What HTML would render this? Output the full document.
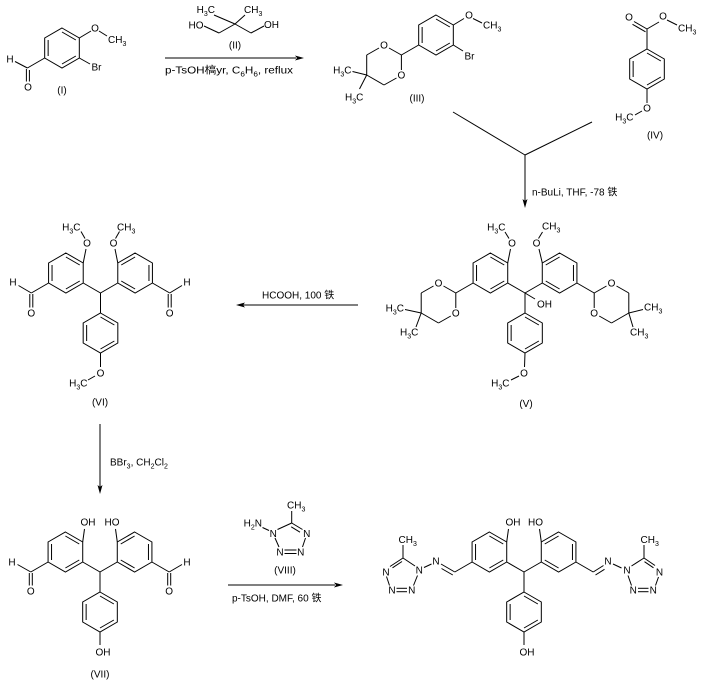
<!DOCTYPE html>
<html><head><meta charset="utf-8"><style>
html,body{margin:0;padding:0;background:#fff;}
svg{display:block;}
text{font-family:"Liberation Sans","Noto Sans CJK SC",sans-serif;font-size:10px;fill:#000;}
.m{text-anchor:middle;}
.e{text-anchor:end;}
</style></head><body>
<svg width="701" height="680" viewBox="0 0 701 680" xmlns="http://www.w3.org/2000/svg">
<defs>
<g id="rA" fill="none" stroke="#000" stroke-width="1">
<polygon points="0,-20 17.32,-10 17.32,10 0,20 -17.32,10 -17.32,-10"/>
<line x1="-13.86" y1="-8" x2="-13.86" y2="8"/>
<line x1="0" y1="-16" x2="13.86" y2="-8"/>
<line x1="13.86" y1="8" x2="0" y2="16"/>
</g>
<g id="rB" fill="none" stroke="#000" stroke-width="1">
<polygon points="0,-20 17.32,-10 17.32,10 0,20 -17.32,10 -17.32,-10"/>
<line x1="13.86" y1="-8" x2="13.86" y2="8"/>
<line x1="-13.86" y1="-8" x2="0" y2="-16"/>
<line x1="0" y1="16" x2="-13.86" y2="8"/>
</g>
</defs>
<rect width="701" height="680" fill="#fff"/>

<g stroke="#000" stroke-width="1" fill="none">
<!-- Compound I -->
<use href="#rA" x="62" y="48"/>
<line x1="79.3" y1="38" x2="91" y2="31"/>
<line x1="99" y1="31" x2="107" y2="36"/>
<line x1="79.3" y1="58" x2="90" y2="64"/>
<line x1="44.7" y1="58" x2="27.4" y2="68"/>
<line x1="27.4" y1="68" x2="15" y2="61.5"/>
<line x1="26.4" y1="69" x2="26.4" y2="81.5"/>
<line x1="29.4" y1="70" x2="29.4" y2="81.5"/>

<!-- Reagent II -->
<line x1="214" y1="15" x2="235" y2="24"/>
<line x1="235" y1="24" x2="245" y2="15"/>
<line x1="235" y1="24" x2="219" y2="33"/>
<line x1="219" y1="33" x2="204" y2="26"/>
<line x1="235" y1="24" x2="251" y2="33"/>
<line x1="251" y1="33" x2="264" y2="26"/>
<line x1="165" y1="58" x2="296" y2="58"/>

<!-- Compound III -->
<use href="#rA" x="436" y="35"/>
<line x1="453.3" y1="25" x2="464" y2="18.5"/>
<line x1="473" y1="18.5" x2="482" y2="23"/>
<line x1="453.3" y1="45" x2="463" y2="51"/>
<line x1="418.7" y1="45" x2="401.4" y2="55"/>
<line x1="401.4" y1="55" x2="389" y2="48"/>
<line x1="379" y1="48" x2="366.7" y2="55"/>
<line x1="366.7" y1="55" x2="366.7" y2="75"/>
<line x1="366.7" y1="75" x2="384" y2="85"/>
<line x1="384" y1="85" x2="396.5" y2="78"/>
<line x1="401.4" y1="70" x2="401.4" y2="55"/>
<line x1="366.7" y1="75" x2="352.5" y2="71.5"/>
<line x1="366.7" y1="75" x2="359.5" y2="89"/>

<!-- Compound IV -->
<use href="#rA" x="647" y="69"/>
<line x1="647" y1="49" x2="647" y2="29"/>
<line x1="647" y1="29" x2="634" y2="21.5"/>
<line x1="645.5" y1="31.8" x2="632.5" y2="24.3"/>
<line x1="647" y1="29" x2="659" y2="22"/>
<line x1="667" y1="20" x2="677" y2="25"/>
<line x1="647" y1="89" x2="647" y2="103"/>
<line x1="642" y1="111" x2="635" y2="115"/>

<!-- convergence arrow -->
<line x1="453" y1="112" x2="525" y2="155"/>
<line x1="592" y1="122" x2="525" y2="155"/>
<line x1="525" y1="155" x2="525" y2="201"/>

<!-- Compound V -->
<use href="#rA" x="490.4" y="273"/>
<use href="#rB" x="559.6" y="273"/>
<use href="#rA" x="525" y="333"/>
<line x1="507.7" y1="283" x2="525" y2="293"/>
<line x1="542.3" y1="283" x2="525" y2="293"/>
<line x1="525" y1="293" x2="525" y2="313"/>
<line x1="525" y1="293" x2="535" y2="299"/>
<line x1="507.7" y1="263" x2="510.5" y2="249"/>
<line x1="505" y1="232" x2="509" y2="238.5"/>
<line x1="542.3" y1="263" x2="539" y2="249"/>
<line x1="538.5" y1="238.5" x2="542.5" y2="232"/>
<line x1="525" y1="353" x2="524.5" y2="367"/>
<line x1="519" y1="376" x2="511" y2="380"/>
<line x1="473.1" y1="283" x2="455.8" y2="293"/>
<line x1="455.8" y1="293" x2="443.5" y2="286"/>
<line x1="433.5" y1="286" x2="421.2" y2="293"/>
<line x1="421.2" y1="293" x2="421.2" y2="313"/>
<line x1="421.2" y1="313" x2="438.5" y2="323"/>
<line x1="438.5" y1="323" x2="450.8" y2="316"/>
<line x1="455.8" y1="308" x2="455.8" y2="293"/>
<line x1="421.2" y1="313" x2="405" y2="309.5"/>
<line x1="421.2" y1="313" x2="416" y2="327"/>
<line x1="576.9" y1="283" x2="594.2" y2="293"/>
<line x1="594.2" y1="293" x2="606.5" y2="286"/>
<line x1="616.5" y1="286" x2="628.8" y2="293"/>
<line x1="628.8" y1="293" x2="628.8" y2="313"/>
<line x1="628.8" y1="313" x2="611.5" y2="323"/>
<line x1="611.5" y1="323" x2="599.2" y2="316"/>
<line x1="594.2" y1="308" x2="594.2" y2="293"/>
<line x1="628.8" y1="313" x2="643" y2="309.5"/>
<line x1="628.8" y1="313" x2="633" y2="327"/>

<!-- arrow V -> VI -->
<line x1="358" y1="305" x2="243" y2="305"/>

<!-- Compound VI -->
<use href="#rA" x="65.9" y="273"/>
<use href="#rB" x="135.1" y="273"/>
<use href="#rA" x="100.5" y="333"/>
<line x1="83.2" y1="283" x2="100.5" y2="293"/>
<line x1="117.8" y1="283" x2="100.5" y2="293"/>
<line x1="100.5" y1="293" x2="100.5" y2="313"/>
<line x1="83.2" y1="263" x2="86" y2="249"/>
<line x1="81" y1="231.5" x2="85" y2="238.5"/>
<line x1="117.8" y1="263" x2="115" y2="249"/>
<line x1="115.5" y1="238.5" x2="119.5" y2="231.5"/>
<line x1="100.5" y1="353" x2="100.5" y2="367"/>
<line x1="95" y1="376" x2="88" y2="380"/>
<line x1="48.6" y1="283" x2="31.3" y2="293"/>
<line x1="31.3" y1="293" x2="18.5" y2="285.5"/>
<line x1="29.8" y1="294" x2="29.8" y2="307.5"/>
<line x1="32.8" y1="294" x2="32.8" y2="307.5"/>
<line x1="152.4" y1="283" x2="169.7" y2="293"/>
<line x1="169.7" y1="293" x2="182" y2="285.5"/>
<line x1="168.2" y1="294" x2="168.2" y2="307.5"/>
<line x1="171.2" y1="294" x2="171.2" y2="307.5"/>

<!-- arrow VI -> VII -->
<line x1="100" y1="424" x2="100" y2="487"/>

<!-- Compound VII -->
<use href="#rA" x="65.4" y="552"/>
<use href="#rB" x="134.6" y="552"/>
<use href="#rA" x="100" y="612"/>
<line x1="82.7" y1="562" x2="100" y2="572"/>
<line x1="117.3" y1="562" x2="100" y2="572"/>
<line x1="100" y1="572" x2="100" y2="592"/>
<line x1="82.7" y1="542" x2="84.5" y2="529"/>
<line x1="117.3" y1="542" x2="115.5" y2="529"/>
<line x1="100" y1="632" x2="100" y2="645"/>
<line x1="48.1" y1="562" x2="30.8" y2="572"/>
<line x1="30.8" y1="572" x2="17.5" y2="564.5"/>
<line x1="29.3" y1="573" x2="29.3" y2="585.5"/>
<line x1="32.3" y1="573" x2="32.3" y2="585.5"/>
<line x1="151.9" y1="562" x2="169.2" y2="572"/>
<line x1="169.2" y1="572" x2="182" y2="564.5"/>
<line x1="167.7" y1="573" x2="167.7" y2="585.5"/>
<line x1="170.7" y1="573" x2="170.7" y2="585.5"/>

<!-- arrow VII -> final -->
<line x1="228" y1="585" x2="335" y2="585"/>

<!-- Compound VIII -->
<line x1="262.5" y1="527.5" x2="269" y2="530.5"/>
<line x1="277.5" y1="529.5" x2="291.7" y2="523"/>
<line x1="291.7" y1="523" x2="302.5" y2="529.5"/>
<line x1="291.2" y1="526.8" x2="300" y2="532.2"/>
<line x1="291.7" y1="523" x2="291.7" y2="511"/>
<line x1="305.5" y1="538" x2="302.5" y2="547"/>
<line x1="284.5" y1="550" x2="296.5" y2="550"/>
<line x1="284.5" y1="553.5" x2="296.5" y2="553.5"/>
<line x1="279" y1="547" x2="275" y2="538"/>

<!-- Final product -->
<use href="#rA" x="489.4" y="552"/>
<use href="#rB" x="558.6" y="552"/>
<use href="#rA" x="524" y="612"/>
<line x1="506.7" y1="562" x2="524" y2="572"/>
<line x1="541.3" y1="562" x2="524" y2="572"/>
<line x1="524" y1="572" x2="524" y2="592"/>
<line x1="506.7" y1="542" x2="508.5" y2="529"/>
<line x1="541.3" y1="542" x2="539.5" y2="529"/>
<line x1="524" y1="632" x2="524" y2="645"/>
<line x1="472.1" y1="562" x2="454.8" y2="572"/>
<line x1="454.8" y1="572" x2="441" y2="564"/>
<line x1="452.8" y1="575" x2="441.5" y2="568.5"/>
<line x1="431.5" y1="564" x2="424" y2="567.5"/>
<line x1="415" y1="566" x2="403" y2="558"/>
<line x1="403" y1="558" x2="390" y2="566.5"/>
<line x1="402" y1="561.5" x2="392.5" y2="567.8"/>
<line x1="403" y1="558" x2="403" y2="545"/>
<line x1="386.5" y1="576.5" x2="389.5" y2="585.5"/>
<line x1="396.5" y1="588.3" x2="407" y2="588.3"/>
<line x1="396.5" y1="591.7" x2="407" y2="591.7"/>
<line x1="413.5" y1="585.5" x2="417.5" y2="575.5"/>
<line x1="575.9" y1="562" x2="593.2" y2="572"/>
<line x1="593.2" y1="572" x2="603.5" y2="565.5"/>
<line x1="595.5" y1="575" x2="604.5" y2="569.3"/>
<line x1="613" y1="564" x2="621.5" y2="568"/>
<line x1="631.5" y1="566" x2="644" y2="558"/>
<line x1="644" y1="558" x2="655" y2="565.5"/>
<line x1="644.5" y1="561.7" x2="653.5" y2="567.8"/>
<line x1="644" y1="558" x2="644" y2="545"/>
<line x1="658.5" y1="577" x2="655.5" y2="585.5"/>
<line x1="638" y1="588.3" x2="648.5" y2="588.3"/>
<line x1="638" y1="591.7" x2="648.5" y2="591.7"/>
<line x1="631.5" y1="585.5" x2="628" y2="575.5"/>
</g>

<!-- arrowheads -->
<g fill="#000" stroke="none">
<polygon points="304,58 295,55.5 297,58 295,60.5"/>
<polygon points="525,208 522.5,199 525,201 527.5,199"/>
<polygon points="236,305 245,302.5 243,305 245,307.5"/>
<polygon points="100,494 97.5,485 100,487 102.5,485"/>
<polygon points="343,585 334,582.5 336,585 334,587.5"/>
</g>

<!-- TEXT -->
<!-- I -->
<text class="m" x="95" y="31.6">O</text>
<text x="108" y="43">CH<tspan dy="3" font-size="7">3</tspan></text>
<text x="91.5" y="70.5">Br</text>
<text class="m" x="10" y="62.5">H</text>
<text class="m" x="28" y="90.5">O</text>
<text class="m" x="62" y="93.5">(I)</text>

<!-- II -->
<text class="e" x="215" y="13">H<tspan dy="3" font-size="7">3</tspan><tspan dy="-3">C</tspan></text>
<text x="244" y="13">CH<tspan dy="3" font-size="7">3</tspan></text>
<text class="e" x="203.5" y="28.5">HO</text>
<text x="264" y="28">OH</text>
<text class="m" x="235" y="48.5">(II)</text>
<text x="165" y="73.5" textLength="128" lengthAdjust="spacingAndGlyphs">p-TsOH槁yr, C<tspan dy="3" font-size="7">6</tspan><tspan dy="-3">H</tspan><tspan dy="3" font-size="7">6</tspan><tspan dy="-3">, reflux</tspan></text>

<!-- III -->
<text class="m" x="469" y="18.6">O</text>
<text x="483" y="28.6">CH<tspan dy="3" font-size="7">3</tspan></text>
<text x="464.5" y="59.6">Br</text>
<text class="m" x="384" y="48.6">O</text>
<text class="m" x="401.4" y="78.6">O</text>
<text class="e" x="351.5" y="73.6">H<tspan dy="3" font-size="7">3</tspan><tspan dy="-3">C</tspan></text>
<text x="345" y="100.6">H<tspan dy="3" font-size="7">3</tspan><tspan dy="-3">C</tspan></text>
<text class="m" x="417" y="101.6">(III)</text>

<!-- IV -->
<text class="m" x="629" y="20.6">O</text>
<text class="m" x="663" y="19.6">O</text>
<text x="678" y="31.6">CH<tspan dy="3" font-size="7">3</tspan></text>
<text class="m" x="647" y="111.6">O</text>
<text class="e" x="633.5" y="120.6">H<tspan dy="3" font-size="7">3</tspan><tspan dy="-3">C</tspan></text>
<text class="m" x="655" y="138.6">(IV)</text>
<text x="532" y="195.6">n-BuLi, THF, -78 铁</text>

<!-- V -->
<text class="e" x="505.5" y="230.6">H<tspan dy="3" font-size="7">3</tspan><tspan dy="-3">C</tspan></text>
<text class="m" x="512" y="246.6">O</text>
<text class="m" x="536.5" y="246.6">O</text>
<text x="542" y="229.6">CH<tspan dy="3" font-size="7">3</tspan></text>
<text x="537" y="307.6">OH</text>
<text class="m" x="438.5" y="286.6">O</text>
<text class="m" x="455.8" y="316.6">O</text>
<text class="e" x="404" y="311.6">H<tspan dy="3" font-size="7">3</tspan><tspan dy="-3">C</tspan></text>
<text x="400" y="335.6">H<tspan dy="3" font-size="7">3</tspan><tspan dy="-3">C</tspan></text>
<text class="m" x="611.5" y="286.6">O</text>
<text class="m" x="594.2" y="316.6">O</text>
<text x="644" y="310.6">CH<tspan dy="3" font-size="7">3</tspan></text>
<text x="630" y="335.6">CH<tspan dy="3" font-size="7">3</tspan></text>
<text class="m" x="524" y="376.6">O</text>
<text class="e" x="509.5" y="386.6">H<tspan dy="3" font-size="7">3</tspan><tspan dy="-3">C</tspan></text>
<text class="m" x="526" y="407">(V)</text>

<text x="262" y="298.6">HCOOH, 100 铁</text>

<!-- VI -->
<text class="e" x="80.5" y="230.6">H<tspan dy="3" font-size="7">3</tspan><tspan dy="-3">C</tspan></text>
<text class="m" x="87" y="246.6">O</text>
<text class="m" x="113.5" y="246.6">O</text>
<text x="117" y="230.6">CH<tspan dy="3" font-size="7">3</tspan></text>
<text class="m" x="100.5" y="376.6">O</text>
<text class="e" x="87.5" y="386.6">H<tspan dy="3" font-size="7">3</tspan><tspan dy="-3">C</tspan></text>
<text class="m" x="100" y="405.6">(VI)</text>
<text class="m" x="13" y="285.6">H</text>
<text class="m" x="31.3" y="316.6">O</text>
<text class="m" x="187" y="285.6">H</text>
<text class="m" x="169.7" y="316.6">O</text>

<text x="110" y="465.6">BBr<tspan dy="3" font-size="7">3</tspan><tspan dy="-3">, CH</tspan><tspan dy="3" font-size="7">2</tspan><tspan dy="-3">Cl</tspan><tspan dy="3" font-size="7">2</tspan></text>

<!-- VII -->
<text x="80.5" y="525.6">OH</text>
<text class="e" x="119.5" y="525.6">HO</text>
<text x="95.5" y="655.6">OH</text>
<text class="m" x="12" y="565.6">H</text>
<text class="m" x="30.8" y="594.6">O</text>
<text class="m" x="187" y="565.6">H</text>
<text class="m" x="169.2" y="594.6">O</text>
<text class="m" x="100" y="677.6">(VII)</text>

<text x="232" y="601.6">p-TsOH, DMF, 60 铁</text>

<!-- VIII -->
<text class="e" x="262" y="526.6">H<tspan dy="3" font-size="7">2</tspan><tspan dy="-3">N</tspan></text>
<text class="m" x="273.3" y="537">N</text>
<text class="m" x="306.7" y="537">N</text>
<text class="m" x="300.7" y="555.3">N</text>
<text class="m" x="280" y="555.3">N</text>
<text x="287" y="508.6">CH<tspan dy="3" font-size="7">3</tspan></text>
<text class="m" x="285" y="573.6">(VIII)</text>

<!-- Final -->
<text x="505.5" y="525.6">OH</text>
<text class="e" x="543" y="525.6">HO</text>
<text x="519.5" y="655.6">OH</text>
<text class="m" x="436" y="564.6">N</text>
<text class="m" x="419.3" y="573.6">N</text>
<text x="398.5" y="542.9">CH<tspan dy="3" font-size="7">3</tspan></text>
<text class="m" x="386" y="575.3">N</text>
<text class="m" x="392" y="593.6">N</text>
<text class="m" x="411.7" y="593.6">N</text>
<text class="m" x="608" y="564.6">N</text>
<text class="m" x="627" y="573.6">N</text>
<text x="640.5" y="542.9">CH<tspan dy="3" font-size="7">3</tspan></text>
<text class="m" x="659.5" y="575.3">N</text>
<text class="m" x="653.3" y="593.6">N</text>
<text class="m" x="633.3" y="593.6">N</text>
</svg>
</body></html>
